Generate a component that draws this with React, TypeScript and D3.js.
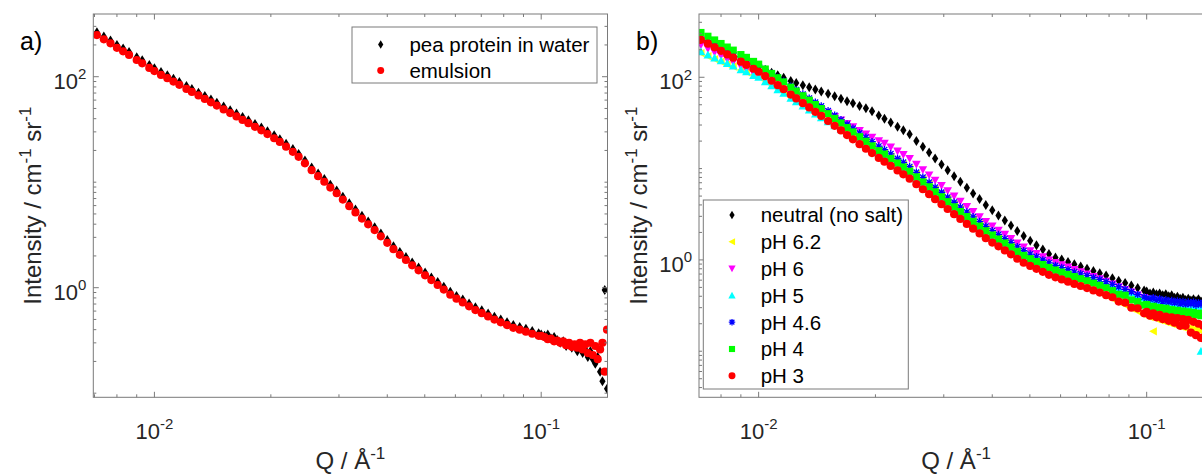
import React from 'react';
import * as d3 from 'd3';

// ---------------- data (Q in 1/Å, intensity in 1/(cm sr)) ----------------
const qValues = [
  0.0071, 0.0074, 0.0077, 0.0080, 0.0083, 0.0086, 0.0090, 0.0093, 0.0097, 0.0100,
  0.0104, 0.0108, 0.0112, 0.0116, 0.0121, 0.0125, 0.0130, 0.0135, 0.0140, 0.0145,
  0.0151, 0.0157, 0.0163, 0.0169, 0.0175, 0.0182, 0.0189, 0.0196, 0.0204, 0.0211,
  0.0219, 0.0228, 0.0236, 0.0245, 0.0255, 0.0265, 0.0275, 0.0285, 0.0296, 0.0307,
  0.0319, 0.0331, 0.0344, 0.0357, 0.0371, 0.0385, 0.0400, 0.0415, 0.0431, 0.0447,
  0.0464, 0.0482, 0.0501, 0.0520, 0.0540, 0.0560, 0.0582, 0.0604, 0.0627, 0.0651,
  0.0676, 0.0702, 0.0729, 0.0757, 0.0786, 0.0816, 0.0847, 0.0880, 0.0913, 0.0948,
  0.0985, 0.100, 0.102, 0.104, 0.106, 0.108, 0.110, 0.112, 0.114, 0.116,
  0.118, 0.120, 0.122, 0.124, 0.126, 0.128, 0.130, 0.132, 0.134, 0.136,
  0.138, 0.140, 0.142, 0.144, 0.146, 0.148,
];

const peaProteinInWater = [
  264, 240, 220, 200, 185, 171, 153, 143, 129, 120,
  111, 103, 95.7, 89.2, 81.5, 76.4, 70.6, 65.5, 60.8, 56.6,
  52.1, 48.1, 44.7, 41.4, 38.6, 35.6, 33.0, 30.4, 27.8, 25.6,
  23.1, 20.6, 18.5, 16.1, 13.8, 12.1, 10.7, 9.46, 8.36, 7.29,
  6.31, 5.50, 4.81, 4.24, 3.74, 3.27, 2.83, 2.47, 2.18, 1.95,
  1.73, 1.55, 1.39, 1.25, 1.13, 1.02, 0.914, 0.836, 0.771, 0.708,
  0.652, 0.610, 0.568, 0.531, 0.500, 0.470, 0.443, 0.425, 0.407, 0.389,
  0.370, 0.36, 0.35, 0.36, 0.33, 0.34, 0.32, 0.30, 0.31, 0.28,
  0.29, 0.27, 0.28, 0.25, 0.27, 0.24, 0.26, 0.22, 0.25, 0.21,
  0.19, 0.22, 0.16, 0.13, 0.95, 0.11,
];

const emulsion = [
  248, 226, 207, 188, 174, 161, 144, 134, 121, 113,
  104, 96.8, 90.0, 83.8, 76.6, 71.8, 66.4, 61.6, 57.2, 53.2,
  49.0, 45.2, 42.0, 38.9, 36.3, 33.5, 31.0, 28.6, 26.1, 24.1,
  21.7, 19.4, 17.4, 15.1, 13.0, 11.4, 10.1, 8.89, 7.86, 6.85,
  5.93, 5.17, 4.52, 3.99, 3.52, 3.07, 2.66, 2.32, 2.05, 1.83,
  1.63, 1.46, 1.31, 1.18, 1.06, 0.959, 0.859, 0.786, 0.725, 0.666,
  0.613, 0.573, 0.534, 0.499, 0.470, 0.442, 0.416, 0.400, 0.383, 0.366,
  0.350, 0.35, 0.34, 0.325, 0.33, 0.31, 0.315, 0.30, 0.31, 0.285,
  0.30, 0.275, 0.29, 0.27, 0.30, 0.26, 0.29, 0.24, 0.30, 0.23,
  0.28, 0.21, 0.26, 0.30, 0.16, 0.40,
];

const neutralNoSalt = [
  263, 242, 222, 205, 190, 177, 161, 150, 137, 129,
  120, 112, 105, 98.8, 91.2, 86.8, 82.0, 77.6, 73.6, 70.0,
  65.9, 62.0, 58.2, 54.8, 51.8, 48.5, 45.7, 42.4, 38.2, 35.2,
  32.0, 28.8, 26.3, 23.7, 20.1, 17.3, 15.0, 12.9, 11.1, 9.6,
  8.26, 7.16, 6.17, 5.35, 4.65, 4.0, 3.49, 3.07, 2.70, 2.38,
  2.07, 1.83, 1.62, 1.45, 1.30, 1.16, 1.06, 1.01, 0.951, 0.897,
  0.848, 0.801, 0.755, 0.714, 0.674, 0.631, 0.593, 0.557, 0.524, 0.491,
  0.461, 0.45, 0.43, 0.44, 0.42, 0.43, 0.41, 0.42, 0.40, 0.41,
  0.385, 0.395, 0.375, 0.385, 0.365, 0.375, 0.36, 0.37, 0.355, 0.37,
  0.35, 0.365, 0.35, 0.36, 0.345, 0.355,
];

const pH62 = [
  184, 170, 158, 148, 139, 131, 120, 114, 106, 102,
  91.6, 83.0, 75.2, 68.7, 60.8, 55.8, 50.2, 45.5, 41.3, 37.7,
  34.0, 30.8, 28.1, 25.6, 23.5, 21.3, 19.4, 17.7, 16.0, 14.8,
  13.5, 12.1, 11.1, 10.0, 8.69, 7.66, 6.76, 5.96, 5.26, 4.65,
  4.06, 3.60, 3.16, 2.79, 2.47, 2.18, 1.94, 1.74, 1.56, 1.40,
  1.25, 1.12, 1.02, 0.931, 0.849, 0.776, 0.718, 0.670, 0.624, 0.581,
  0.542, 0.506, 0.471, 0.439, 0.407, 0.375, 0.347, 0.321, 0.296, 0.272,
  0.253, 0.243, 0.237, 0.165, 0.225, 0.220, 0.215, 0.209, 0.205, 0.200,
  0.195, 0.191, 0.187, 0.183, 0.180, 0.178, 0.176, 0.174, 0.172, 0.171,
  0.170, 0.169, 0.168, 0.167, 0.166, 0.165,
];

const pH6 = [
  226, 206, 188, 173, 158, 147, 132, 122, 111, 104,
  94.0, 85.9, 78.5, 72.4, 64.7, 60.7, 55.6, 51.4, 47.5, 44.3,
  40.4, 37.1, 34.0, 31.0, 28.6, 26.1, 23.9, 22.0, 20.1, 18.9,
  17.2, 15.5, 14.2, 12.9, 11.1, 9.70, 8.51, 7.45, 6.52, 5.71,
  4.99, 4.39, 3.84, 3.38, 2.97, 2.62, 2.34, 2.11, 1.90, 1.71,
  1.53, 1.38, 1.26, 1.17, 1.08, 0.998, 0.933, 0.883, 0.832, 0.782,
  0.738, 0.698, 0.656, 0.619, 0.582, 0.542, 0.507, 0.474, 0.444, 0.413,
  0.386, 0.377, 0.370, 0.365, 0.359, 0.354, 0.349, 0.344, 0.339, 0.336,
  0.331, 0.328, 0.324, 0.321, 0.318, 0.316, 0.314, 0.312, 0.310, 0.309,
  0.308, 0.307, 0.306, 0.305, 0.304, 0.303,
];

const pH5 = [
  191, 176, 163, 152, 142, 133, 121, 115, 105, 100,
  89.7, 81.1, 73.3, 66.8, 59.0, 54.1, 48.5, 43.9, 39.7, 36.1,
  32.6, 29.6, 27.0, 24.5, 22.4, 20.1, 18.1, 16.4, 14.7, 13.4,
  12.1, 10.7, 9.70, 8.71, 7.57, 6.67, 5.89, 5.19, 4.58, 4.05,
  3.56, 3.16, 2.78, 2.47, 2.19, 1.94, 1.74, 1.58, 1.43, 1.29,
  1.16, 1.04, 0.964, 0.895, 0.830, 0.785, 0.750, 0.724, 0.698, 0.671,
  0.652, 0.632, 0.611, 0.592, 0.560, 0.525, 0.494, 0.466, 0.439, 0.410,
  0.385, 0.377, 0.371, 0.366, 0.361, 0.357, 0.352, 0.348, 0.344, 0.340,
  0.336, 0.333, 0.329, 0.326, 0.324, 0.322, 0.320, 0.318, 0.316, 0.314,
  0.10, 0.312, 0.311, 0.310, 0.309, 0.308,
];

const pH46 = [
  275, 252, 233, 215, 199, 185, 168, 158, 144, 136,
  122, 110, 99.1, 90.2, 79.6, 72.9, 65.3, 59.0, 53.3, 48.5,
  43.0, 38.3, 34.3, 30.6, 27.6, 24.5, 22.0, 19.7, 17.6, 16.1,
  14.5, 12.9, 11.7, 10.5, 9.10, 8.02, 7.08, 6.24, 5.51, 4.86,
  4.28, 3.79, 3.34, 2.96, 2.63, 2.33, 2.09, 1.90, 1.71, 1.55,
  1.39, 1.26, 1.16, 1.08, 0.998, 0.927, 0.869, 0.824, 0.780, 0.736,
  0.705, 0.673, 0.641, 0.612, 0.578, 0.540, 0.507, 0.476, 0.448, 0.418,
  0.392, 0.38, 0.37, 0.385, 0.36, 0.375, 0.35, 0.365, 0.345, 0.36,
  0.34, 0.355, 0.33, 0.35, 0.325, 0.345, 0.33, 0.345, 0.32, 0.34,
  0.325, 0.34, 0.32, 0.335, 0.32, 0.33,
];

const pH4 = [
  309, 281, 256, 234, 214, 198, 177, 165, 149, 139,
  123, 110, 98.6, 88.9, 77.8, 70.6, 62.7, 56.1, 50.2, 45.3,
  39.9, 35.4, 31.6, 28.1, 25.2, 22.3, 19.9, 17.7, 15.7, 14.4,
  12.9, 11.5, 10.4, 9.33, 8.11, 7.14, 6.31, 5.56, 4.91, 4.34,
  3.81, 3.38, 2.98, 2.64, 2.34, 2.08, 1.87, 1.69, 1.53, 1.38,
  1.24, 1.12, 1.03, 0.959, 0.889, 0.826, 0.774, 0.735, 0.695, 0.656,
  0.622, 0.590, 0.557, 0.527, 0.494, 0.46, 0.42, 0.41, 0.365, 0.35,
  0.32, 0.325, 0.30, 0.31, 0.295, 0.30, 0.285, 0.295, 0.28, 0.285,
  0.27, 0.28, 0.265, 0.275, 0.26, 0.27, 0.255, 0.265, 0.25, 0.26,
  0.245, 0.26, 0.24, 0.255, 0.24, 0.25,
];

const pH3 = [
  257, 233, 213, 195, 178, 164, 148, 137, 124, 115,
  103, 91.6, 82.0, 74.0, 64.7, 58.7, 52.1, 46.7, 41.8, 37.7,
  33.2, 29.4, 26.2, 23.3, 20.9, 18.5, 16.5, 14.8, 13.1, 11.9,
  10.7, 9.55, 8.65, 7.76, 6.75, 5.94, 5.25, 4.62, 4.08, 3.61,
  3.17, 2.81, 2.48, 2.20, 1.95, 1.73, 1.55, 1.41, 1.27, 1.15,
  1.03, 0.931, 0.859, 0.798, 0.740, 0.687, 0.644, 0.611, 0.578, 0.546,
  0.518, 0.491, 0.463, 0.439, 0.411, 0.39, 0.35, 0.34, 0.30, 0.295,
  0.26, 0.27, 0.245, 0.26, 0.235, 0.25, 0.225, 0.24, 0.215, 0.235,
  0.205, 0.23, 0.19, 0.225, 0.19, 0.22, 0.16, 0.21, 0.15, 0.2,
  0.14, 0.19, 0.13, 0.18, 0.15, 0.17,
];

const legendA = ['pea protein in water', 'emulsion'];
const legendB = ['neutral (no salt)', 'pH 6.2', 'pH 6', 'pH 5', 'pH 4.6', 'pH 4', 'pH 3'];
const xTickLabels = [{ v: 0.01, exp: '-2' }, { v: 0.1, exp: '-1' }];
const yTickLabels = [{ v: 1, exp: '0' }, { v: 100, exp: '2' }];

// ---------------- layout / style ----------------
const FONT = '"Liberation Sans", Arial, Helvetica, sans-serif';
const TXT = '#262626';
const AX = '#7a7a7a';

type Kind = 'diamond' | 'circle' | 'left' | 'down' | 'up' | 'star' | 'square';

function Marker({ kind, color, x, y, s = 1 }: { kind: Kind; color: string; x: number; y: number; s?: number }) {
  switch (kind) {
    case 'diamond':
      return <path d={`M${x},${y - 5 * s}L${x + 3.1 * s},${y}L${x},${y + 5 * s}L${x - 3.1 * s},${y}Z`} fill={color} />;
    case 'circle':
      return <circle cx={x} cy={y} r={4.1 * s} fill={color} />;
    case 'left':
      return <path d={`M${x - 4.2 * s},${y}L${x + 3.6 * s},${y - 4.2 * s}L${x + 3.6 * s},${y + 4.2 * s}Z`} fill={color} />;
    case 'down':
      return <path d={`M${x - 4.3 * s},${y - 3.6 * s}L${x + 4.3 * s},${y - 3.6 * s}L${x},${y + 4.3 * s}Z`} fill={color} />;
    case 'up':
      return <path d={`M${x - 4.3 * s},${y + 3.6 * s}L${x + 4.3 * s},${y + 3.6 * s}L${x},${y - 4.3 * s}Z`} fill={color} />;
    case 'square':
      return <rect x={x - 3.6 * s} y={y - 3.6 * s} width={7.2 * s} height={7.2 * s} fill={color} />;
    case 'star':
      return (
        <path
          d={`M${x - 3.8 * s},${y}H${x + 3.8 * s}M${x},${y - 3.8 * s}V${y + 3.8 * s}M${x - 2.8 * s},${y - 2.8 * s}L${x + 2.8 * s},${y + 2.8 * s}M${x - 2.8 * s},${y + 2.8 * s}L${x + 2.8 * s},${y - 2.8 * s}`}
          stroke={color}
          strokeWidth={1.3}
          fill="none"
        />
      );
  }
  return null;
}

type Series = { name: string; values: number[]; kind: Kind; color: string };

const seriesA: Series[] = [
  { name: legendA[0], values: peaProteinInWater, kind: 'diamond', color: '#000000' },
  { name: legendA[1], values: emulsion, kind: 'circle', color: '#ff0000' },
];

const seriesB: Series[] = [
  { name: legendB[0], values: neutralNoSalt, kind: 'diamond', color: '#000000' },
  { name: legendB[1], values: pH62, kind: 'left', color: '#ffff00' },
  { name: legendB[2], values: pH6, kind: 'down', color: '#ff00ff' },
  { name: legendB[3], values: pH5, kind: 'up', color: '#00ffff' },
  { name: legendB[4], values: pH46, kind: 'star', color: '#0000ff' },
  { name: legendB[5], values: pH4, kind: 'square', color: '#00ff00' },
  { name: legendB[6], values: pH3, kind: 'circle', color: '#ff0000' },
];

type PanelDef = {
  id: string;
  x0: number; x1: number; y0: number; y1: number;
  xDom: [number, number]; yDom: [number, number];
  series: Series[];
  tag: string; tagX: number;
  legend: { x: number; y: number; w: number; h: number; firstRow: number; rowStep: number };
};

const panels: PanelDef[] = [
  {
    id: 'a', x0: 93.3, x1: 607.5, y0: 14, y1: 397.3,
    xDom: [0.00695, 0.1484], yDom: [0.0914, 393],
    series: seriesA, tag: 'a)', tagX: 20,
    legend: { x: 352, y: 27, w: 245, h: 56, firstRow: 44.5, rowStep: 26 },
  },
  {
    id: 'b', x0: 699, x1: 1213.2, y0: 14, y1: 397.3,
    xDom: [0.00702, 0.1484], yDom: [0.0313, 493],
    series: seriesB, tag: 'b)', tagX: 636,
    legend: { x: 703.3, y: 200, w: 205, h: 189, firstRow: 215, rowStep: 26.8 },
  },
];

function Panel({ p }: { p: PanelDef }) {
  const x = d3.scaleLog().domain(p.xDom).range([p.x0, p.x1]);
  const y = d3.scaleLog().domain(p.yDom).range([p.y1, p.y0]);
  const xt = x.ticks();
  const yt = y.ticks();
  const isMajX = (v: number) => xTickLabels.some((t) => Math.abs(t.v - v) / v < 1e-6);
  const isMajY = (v: number) => yTickLabels.some((t) => Math.abs(t.v - v) / v < 1e-6);
  const maj = 5.5;
  const mino = 3;
  const cx = (p.x0 + p.x1) / 2;
  const cy = (p.y0 + p.y1) / 2;
  const L = p.legend;
  return (
    <g>
      <defs>
        <clipPath id={`clip-${p.id}`}>
          <rect x={p.x0} y={p.y0} width={p.x1 - p.x0} height={p.y1 - p.y0} />
        </clipPath>
      </defs>
      <rect x={p.x0} y={p.y0} width={p.x1 - p.x0} height={p.y1 - p.y0} fill="#ffffff" />
      <g clipPath={`url(#clip-${p.id})`}>
        {p.series.map((s) => (
          <g key={s.name}>
            {s.values.map((v, i) => (
              <Marker key={i} kind={s.kind} color={s.color} x={x(qValues[i])} y={y(v)} />
            ))}
          </g>
        ))}
      </g>
      {/* ticks */}
      <g stroke={AX} strokeWidth={1}>
        {xt.map((v, i) => {
          const len = isMajX(v) ? maj : mino;
          const px = x(v);
          return (
            <g key={'xt' + i}>
              <line x1={px} x2={px} y1={p.y1} y2={p.y1 - len} />
              <line x1={px} x2={px} y1={p.y0} y2={p.y0 + len} />
            </g>
          );
        })}
        {yt.map((v, i) => {
          const len = isMajY(v) ? maj : mino;
          const py = y(v);
          return (
            <g key={'yt' + i}>
              <line x1={p.x0} x2={p.x0 + len} y1={py} y2={py} />
              <line x1={p.x1} x2={p.x1 - len} y1={py} y2={py} />
            </g>
          );
        })}
      </g>
      <rect x={p.x0} y={p.y0} width={p.x1 - p.x0} height={p.y1 - p.y0} fill="none" stroke={AX} strokeWidth={1} />
      {/* tick labels */}
      <g fontFamily={FONT} fill={TXT}>
        {xTickLabels.map((t) => (
          <text key={'xl' + t.v} x={x(t.v)} y={p.y1 + 42} textAnchor="middle" fontSize={22}>
            10<tspan dy={-10} fontSize={15}>{t.exp}</tspan>
          </text>
        ))}
        {yTickLabels.map((t) => (
          <text key={'yl' + t.v} x={p.x0 - 7} y={y(t.v) + 12} textAnchor="end" fontSize={22}>
            10<tspan dy={-9.5} fontSize={15}>{t.exp}</tspan>
          </text>
        ))}
        {/* axis titles */}
        <text x={cx} y={469} textAnchor="middle" fontSize={24}>
          Q / Å<tspan dy={-10} fontSize={17}>-1</tspan>
        </text>
        <text transform={`translate(${p.x0 - 52.3},${cy}) rotate(-90)`} textAnchor="middle" fontSize={24}>
          Intensity / cm<tspan dy={-10} fontSize={17}>-1</tspan>
          <tspan dy={10}> sr</tspan>
          <tspan dy={-10} fontSize={17}>-1</tspan>
        </text>
        <text x={p.tagX} y={50} fontSize={25} fill="#000000">{p.tag}</text>
      </g>
      {/* legend */}
      <g>
        <rect x={L.x} y={L.y} width={L.w} height={L.h} fill="#ffffff" stroke={AX} strokeWidth={1} />
        {p.series.map((s, i) => {
          const ry = L.firstRow + i * L.rowStep;
          return (
            <g key={'lg' + i}>
              <Marker kind={s.kind} color={s.color} x={L.x + 28.7} y={ry} s={0.85} />
              <text x={L.x + 57.4} y={ry + 7.3} fontFamily={FONT} fontSize={20.5} fill="#000000">
                {s.name}
              </text>
            </g>
          );
        })}
      </g>
    </g>
  );
}

export default function App() {
  return (
    <svg
      width={1202}
      height={475}
      viewBox="0 0 1202 475"
      style={{ position: 'absolute', left: 0, top: 0, background: '#ffffff', display: 'block' }}
    >
      <rect x={0} y={0} width={1202} height={475} fill="#ffffff" />
      {panels.map((p) => (
        <Panel key={p.id} p={p} />
      ))}
    </svg>
  );
}
